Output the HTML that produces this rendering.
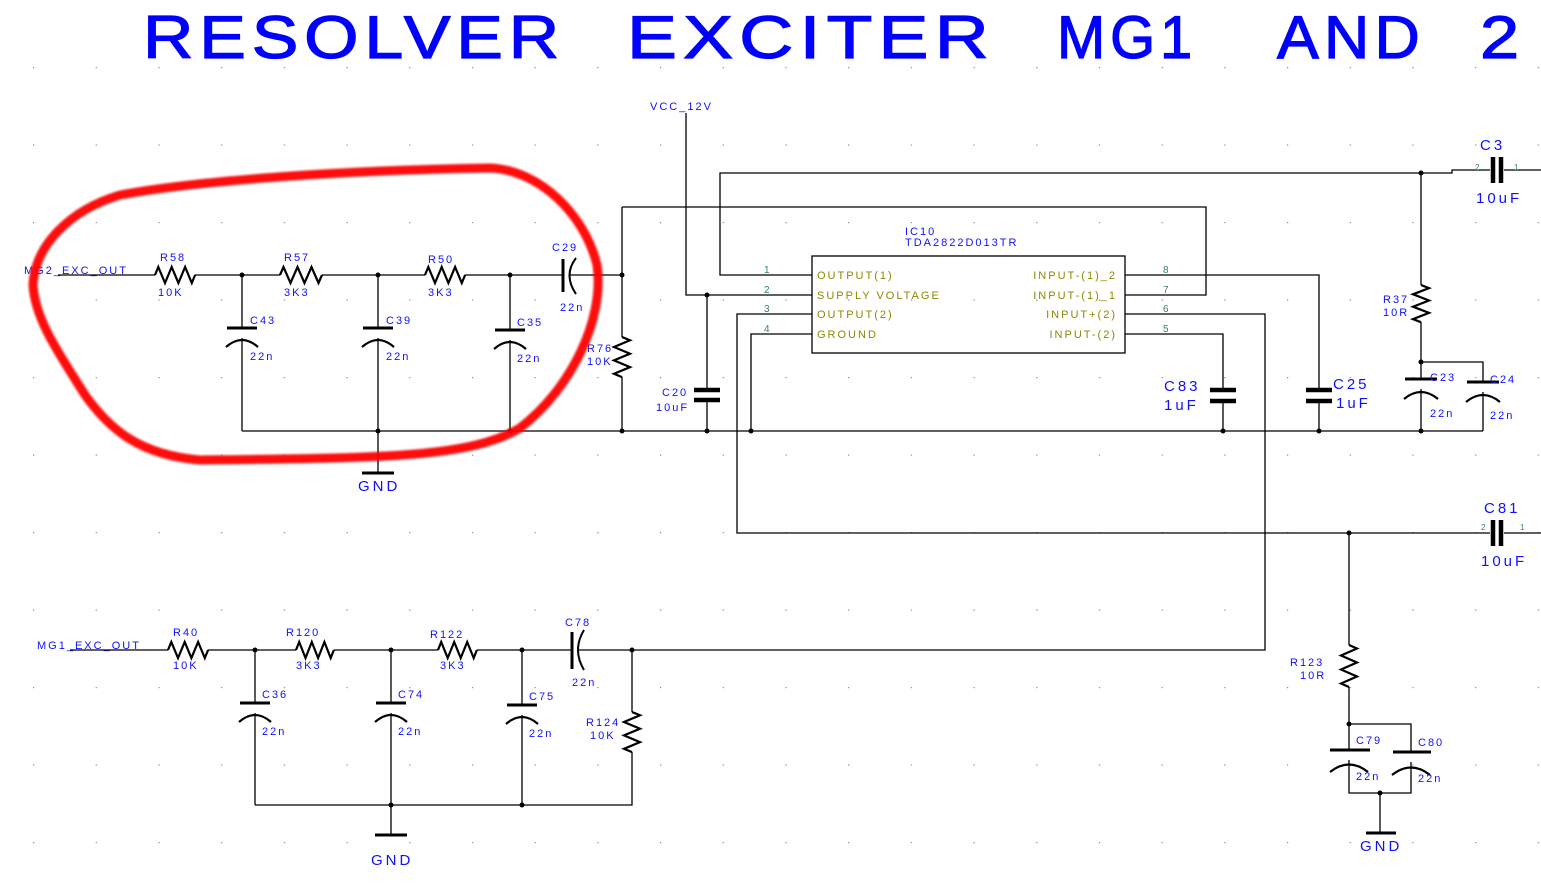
<!DOCTYPE html>
<html><head><meta charset="utf-8"><style>
html,body{margin:0;padding:0;background:#fff;}
svg{display:block}
.w{stroke:#000;stroke-width:1.3;fill:none}
.r{stroke:#000;stroke-width:2.2;fill:none;stroke-linejoin:miter}
.p{stroke:#000;stroke-width:3;fill:none}
.np{stroke:#000;stroke-width:4.5;fill:none}
.t{font-family:"Liberation Sans",sans-serif;fill:#1010ff;font-size:11px;letter-spacing:2px}
.tb{font-family:"Liberation Sans",sans-serif;fill:#1010ff;font-size:15px;letter-spacing:3px}
.pin{font-family:"Liberation Sans",sans-serif;fill:#8a8a00;font-size:11px;letter-spacing:2px}
.pn{font-family:"Liberation Sans",sans-serif;fill:#3a7a7a;font-size:10px}
.ti{font-family:"Liberation Sans",sans-serif;font-size:60px;fill:#0000ff;stroke:#0000ff;stroke-width:1.2;letter-spacing:5px}
</style></head><body>
<svg width="1541" height="884" viewBox="0 0 1541 884" xmlns="http://www.w3.org/2000/svg">
<defs>
<pattern id="g" x="33" y="67" width="62.7" height="77.5" patternUnits="userSpaceOnUse">
<rect x="0" y="0" width="1.2" height="1.2" fill="#888"/></pattern>
</defs>
<rect width="1541" height="884" fill="url(#g)"/>
<text class="ti" x="143" y="58" textLength="422" lengthAdjust="spacingAndGlyphs">RESOLVER</text>
<text class="ti" x="627" y="58" textLength="368" lengthAdjust="spacingAndGlyphs">EXCITER</text>
<text class="ti" x="1057" y="58" textLength="140" lengthAdjust="spacingAndGlyphs">MG1</text>
<text class="ti" x="1277" y="58" textLength="148" lengthAdjust="spacingAndGlyphs">AND</text>
<text class="ti" x="1480" y="58" textLength="45" lengthAdjust="spacingAndGlyphs">2</text>

<!-- top filter -->
<path class="w" d="M58 275H155M195 275H280M322 275H425M465 275H563M570 275H622"/>
<path class="r" d="M155 275l3.3-8 6.7 16 6.7-16 6.7 16 6.7-16 6.7 16 3.3-8"/>
<path class="r" d="M280 275l3.5-8 7 16 7-16 7 16 7-16 7 16 3.5-8"/>
<path class="r" d="M425 275l3.3-8 6.7 16 6.7-16 6.7 16 6.7-16 6.7 16 3.3-8"/>
<path class="p" d="M563 259V292" /><path class="w" style="stroke-width:2" d="M576 258Q563 275 576 294"/>
<path class="w" d="M242 275V328M242 338V431M378 275V328M378 338V473M510 275V330M510 340V431"/>
<path class="p" d="M227 328H257M363 328H393M495 330H525"/>
<path class="w" style="stroke-width:2.2" d="M226 347Q242 333 258 347M362 347Q378 333 394 347M494 349Q510 335 526 349"/>
<path class="w" d="M242 431H1483"/>
<path class="p" d="M362 473H394"/>
<path class="w" d="M622 207V337M622 377V431M622 207H1206V295H1125"/>
<path class="r" d="M622 337l8 3.3-16 6.7 16 6.7-16 6.7 16 6.7-16 6.7 8 3.3"/>

<!-- IC -->
<rect x="812" y="256" width="313" height="97" fill="none" stroke="#000" stroke-width="1.3"/>
<path class="w" d="M812 275H720V173H1452V170H1490M1504 170H1541"/>
<path class="np" d="M1493 157V183M1501 157V183"/>
<path class="w" d="M686 113V295H812M707 295V390M707 400V431"/>
<path class="np" d="M694 390H720M694 400H720"/>
<path class="w" d="M812 314H737V533H1490M1504 533H1541"/>
<path class="np" d="M1493 520V546M1501 520V546"/>
<path class="w" d="M812 334H751V431"/>
<path class="w" d="M1125 275H1319V390M1319 401V431"/>
<path class="np" d="M1306 390H1332M1306 401H1332"/>
<path class="w" d="M1125 314H1265V650H632"/>
<path class="w" d="M1125 334H1223V390M1223 401V431"/>
<path class="np" d="M1210 390H1236M1210 401H1236"/>
<path class="w" d="M1421 173V285M1421 322V379M1421 389V431M1421 362H1483V382M1483 392V431"/>
<path class="r" d="M1421 285l8 3.1-16 6.2 16 6.2-16 6.2 16 6.2-16 6.2 8 3.1"/>
<path class="p" d="M1405 379H1437M1467 382H1499"/>
<path class="w" style="stroke-width:2.2" d="M1404 399Q1421 385 1438 399M1466 402Q1483 388 1500 402"/>

<!-- bottom filter -->
<path class="w" d="M70 650H168M208 650H296M334 650H438M477 650H572M578 650H632"/>
<path class="r" d="M168 650l3.3-8 6.7 16 6.7-16 6.7 16 6.7-16 6.7 16 3.3-8"/>
<path class="r" d="M296 650l3.2-8 6.3 16 6.3-16 6.3 16 6.3-16 6.3 16 3.2-8"/>
<path class="r" d="M438 650l3.2-8 6.5 16 6.5-16 6.5 16 6.5-16 6.5 16 3.2-8"/>
<path class="p" d="M572 632V669"/><path class="w" style="stroke-width:2" d="M584 630Q572 650 584 670"/>
<path class="w" d="M255 650V703M255 713V805M391 650V703M391 713V835M522 650V705M522 715V805M255 805H632V752M632 712V650"/>
<path class="r" d="M632 712l8 3.3-16 6.7 16 6.7-16 6.7 16 6.7-16 6.7 8 3.3"/>
<path class="p" d="M240 703H270M376 703H406M507 705H537"/>
<path class="w" style="stroke-width:2.2" d="M239 722Q255 708 271 722M375 722Q391 708 407 722M506 724Q522 710 538 724"/>
<path class="p" d="M375 835H407"/>

<path class="w" d="M1349 533V645M1349 687V750M1349 760V793H1411V762M1411 752V724H1349M1380 793V833"/>
<path class="r" d="M1349 645l8 3.5-16 7 16 7-16 7 16 7-16 7 8 3.5"/>
<path class="p" d="M1330 750H1370M1393 752H1431M1366 833H1396"/>
<path class="w" style="stroke-width:2.2" d="M1330 772Q1349 757 1368 772M1392 775Q1411 760 1430 775"/>

<!-- junctions -->
<g fill="#000">
<circle cx="242" cy="275" r="2.5"/><circle cx="378" cy="275" r="2.5"/><circle cx="510" cy="275" r="2.5"/><circle cx="622" cy="275" r="2.5"/>
<circle cx="378" cy="431" r="2.5"/><circle cx="510" cy="431" r="2.5"/><circle cx="622" cy="431" r="2.5"/><circle cx="707" cy="431" r="2.5"/><circle cx="751" cy="431" r="2.5"/><circle cx="1223" cy="431" r="2.5"/><circle cx="1319" cy="431" r="2.5"/><circle cx="1421" cy="431" r="2.5"/>
<circle cx="707" cy="295" r="2.5"/><circle cx="1421" cy="173" r="2.5"/><circle cx="1421" cy="362" r="2.5"/>
<circle cx="1349" cy="533" r="2.5"/><circle cx="1349" cy="724" r="2.5"/><circle cx="1380" cy="793" r="2.5"/>
<circle cx="255" cy="650" r="2.5"/><circle cx="391" cy="650" r="2.5"/><circle cx="522" cy="650" r="2.5"/><circle cx="632" cy="650" r="2.5"/><circle cx="391" cy="805" r="2.5"/><circle cx="522" cy="805" r="2.5"/>
</g>

<!-- labels -->
<text class="t" x="24" y="274">MG2_EXC_OUT</text>
<text class="t" x="160" y="261">R58</text><text class="t" x="158" y="296">10K</text>
<text class="t" x="284" y="261">R57</text><text class="t" x="284" y="296">3K3</text>
<text class="t" x="428" y="263">R50</text><text class="t" x="428" y="296">3K3</text>
<text class="t" x="552" y="251">C29</text><text class="t" x="560" y="311">22n</text>
<text class="t" x="250" y="324">C43</text><text class="t" x="250" y="360">22n</text>
<text class="t" x="386" y="324">C39</text><text class="t" x="386" y="360">22n</text>
<text class="t" x="517" y="326">C35</text><text class="t" x="517" y="362">22n</text>
<text class="t" x="587" y="352">R76</text><text class="t" x="587" y="365">10K</text>
<text class="tb" x="358" y="491">GND</text>
<text class="t" x="650" y="110">VCC_12V</text>
<text class="t" x="905" y="235">IC10</text><text class="t" x="905" y="246">TDA2822D013TR</text>
<text class="pin" x="817" y="279">OUTPUT(1)</text>
<text class="pin" x="817" y="299">SUPPLY VOLTAGE</text>
<text class="pin" x="817" y="318">OUTPUT(2)</text>
<text class="pin" x="817" y="338">GROUND</text>
<text class="pin" x="1117" y="279" text-anchor="end">INPUT-(1)_2</text>
<text class="pin" x="1117" y="299" text-anchor="end">INPUT-(1)_1</text>
<text class="pin" x="1117" y="318" text-anchor="end">INPUT+(2)</text>
<text class="pin" x="1117" y="338" text-anchor="end">INPUT-(2)</text>
<text class="pn" x="764" y="273">1</text><text class="pn" x="764" y="293">2</text><text class="pn" x="764" y="312">3</text><text class="pn" x="764" y="332">4</text>
<text class="pn" x="1163" y="273">8</text><text class="pn" x="1163" y="293">7</text><text class="pn" x="1163" y="312">6</text><text class="pn" x="1163" y="332">5</text>
<text class="t" x="662" y="396">C20</text><text class="t" x="656" y="411">10uF</text>
<text class="tb" x="1164" y="391">C83</text><text class="tb" x="1164" y="410">1uF</text>
<text class="tb" x="1333" y="389">C25</text><text class="tb" x="1336" y="408">1uF</text>
<text class="t" x="1383" y="303">R37</text><text class="t" x="1383" y="316">10R</text>
<text class="t" x="1430" y="381">C23</text><text class="t" x="1430" y="417">22n</text>
<text class="t" x="1490" y="383">C24</text><text class="t" x="1490" y="419">22n</text>
<text class="tb" x="1480" y="150">C3</text><text class="tb" x="1476" y="203">10uF</text>
<text class="pn" x="1475" y="170" style="font-size:8px">2</text><text class="pn" x="1514" y="170" style="font-size:8px">1</text>
<text class="tb" x="1484" y="513">C81</text><text class="tb" x="1481" y="566">10uF</text>
<text class="pn" x="1481" y="530" style="font-size:8px">2</text><text class="pn" x="1520" y="530" style="font-size:8px">1</text>
<text class="t" x="1290" y="666">R123</text><text class="t" x="1300" y="679">10R</text>
<text class="t" x="1356" y="744">C79</text><text class="t" x="1356" y="780">22n</text>
<text class="t" x="1418" y="746">C80</text><text class="t" x="1418" y="782">22n</text>
<text class="tb" x="1360" y="851">GND</text>

<text class="t" x="37" y="649">MG1_EXC_OUT</text>
<text class="t" x="173" y="636">R40</text><text class="t" x="173" y="669">10K</text>
<text class="t" x="286" y="636">R120</text><text class="t" x="296" y="669">3K3</text>
<text class="t" x="430" y="638">R122</text><text class="t" x="440" y="669">3K3</text>
<text class="t" x="565" y="626">C78</text><text class="t" x="572" y="686">22n</text>
<text class="t" x="262" y="698">C36</text><text class="t" x="262" y="735">22n</text>
<text class="t" x="398" y="698">C74</text><text class="t" x="398" y="735">22n</text>
<text class="t" x="529" y="700">C75</text><text class="t" x="529" y="737">22n</text>
<text class="t" x="586" y="726">R124</text><text class="t" x="590" y="739">10K</text>
<text class="tb" x="371" y="865">GND</text>

<!-- red loop -->
<path d="M490 168C540 170 585 215 597 265C605 320 570 390 520 428C470 458 380 458 200 460C140 455 110 430 85 395C60 355 35 320 33 285C35 245 70 210 120 195C200 180 350 170 490 168Z" fill="none" stroke="#ff0000" stroke-width="9" opacity="0.95" style="filter:blur(1px)"/>
</svg>
</body></html>
